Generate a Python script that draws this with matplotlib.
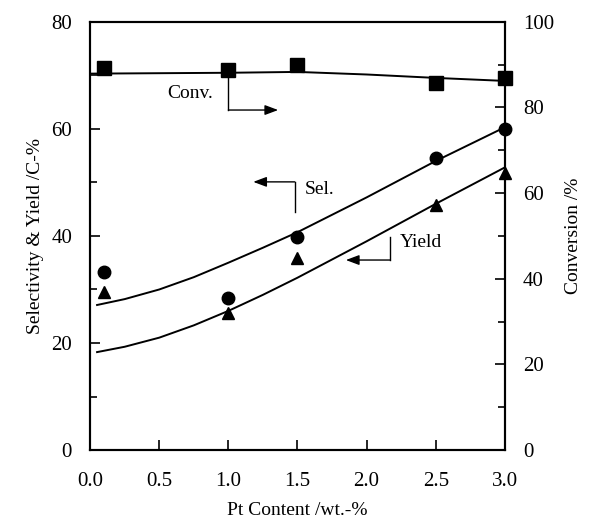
#!/usr/bin/python3

# Selectivity, yield and conversion versus Pt content.
# Writes out.png

import matplotlib.pyplot as plt
from matplotlib.ticker import MultipleLocator

plt.rcParams['font.family'] = ['Liberation Serif', 'DejaVu Serif']

# measured points
pt = [0.1, 1.0, 1.5, 2.5, 3.0]
conv = [89.2, 88.8, 90.0, 85.7, 86.9]          # right axis
sel = [33.3, 28.4, 39.8, 54.6, 59.9]
yld = [29.5, 25.6, 35.9, 45.8, 51.8]

# fitted curves
conv_fit_x = [0.0, 0.5, 1.0, 1.5, 2.0, 2.5, 3.0]
conv_fit = [87.9, 88.0, 88.1, 88.3, 87.7, 86.9, 86.2]
fit_x = [0.05, 0.25, 0.5, 0.75, 1.0, 1.25, 1.5, 2.0, 2.5, 3.0]
sel_fit = [27.1, 28.2, 30.0, 32.3, 35.0, 37.8, 40.7, 47.2, 54.0, 60.3]
yld_fit = [18.3, 19.3, 21.0, 23.3, 26.0, 29.0, 32.2, 39.0, 46.0, 52.8]

fig = plt.figure(figsize=(6.01, 5.32), dpi=100)
ax = fig.add_axes([0.15, 0.154, 0.69, 0.805])
ax2 = ax.twinx()

lw = 1.4
ax.plot(fit_x, sel_fit, color='black', lw=lw)
ax.plot(fit_x, yld_fit, color='black', lw=lw)
ax.plot(pt, sel, 'o', color='black', ms=9, clip_on=False)
ax.plot(pt, yld, '^', color='black', ms=9, clip_on=False)
ax2.plot(conv_fit_x, conv_fit, color='black', lw=lw)
ax2.plot(pt, conv, 's', color='black', ms=10, clip_on=False)

ax.set_xlim(0, 3)
ax.set_ylim(0, 80)
ax2.set_ylim(0, 100)
ax.xaxis.set_major_locator(MultipleLocator(0.5))
ax.yaxis.set_major_locator(MultipleLocator(20))
ax.yaxis.set_minor_locator(MultipleLocator(10))
ax2.yaxis.set_major_locator(MultipleLocator(20))
ax2.yaxis.set_minor_locator(MultipleLocator(10))
ax.xaxis.set_major_formatter(plt.FormatStrFormatter('%.1f'))

for a in (ax, ax2):
    a.tick_params(which='both', direction='in', labelsize=15, width=1.2)
    a.tick_params(which='major', length=7)
    a.tick_params(which='minor', length=5)
    for s in a.spines.values():
        s.set_linewidth(1.5)
ax.tick_params(axis='x', pad=16)
ax.tick_params(axis='y', pad=13)
ax2.tick_params(axis='y', pad=13)

ax.set_xlabel('Pt Content /wt.-%', fontsize=14, labelpad=8)
ax.set_ylabel('Selectivity & Yield /C-%', fontsize=14, labelpad=5)
ax2.set_ylabel('Conversion /%', fontsize=14, labelpad=8)

# annotations with elbow arrows
akw = dict(arrowstyle='-|>,head_length=0.8,head_width=0.3', color='black',
           lw=1.0, mutation_scale=10, shrinkA=0, shrinkB=0)
ax2.plot([1.0, 1.0], [88.1, 79.4], color='black', lw=1.0)
ax2.annotate('', xy=(1.36, 79.4), xytext=(1.0, 79.4), arrowprops=akw)
ax2.text(0.89, 83.2, 'Conv.', fontsize=14, ha='right', va='center')

ax.plot([1.48, 1.48], [44.5, 50.1], color='black', lw=1.0)
ax.annotate('', xy=(1.18, 50.1), xytext=(1.48, 50.1), arrowprops=akw)
ax.text(1.55, 48.6, 'Sel.', fontsize=14, ha='left', va='center')

ax.plot([2.17, 2.17], [39.8, 35.5], color='black', lw=1.0)
ax.annotate('', xy=(1.85, 35.5), xytext=(2.17, 35.5), arrowprops=akw)
ax.text(2.24, 38.7, 'Yield', fontsize=14, ha='left', va='center')

plt.savefig('out.png', dpi=100)
